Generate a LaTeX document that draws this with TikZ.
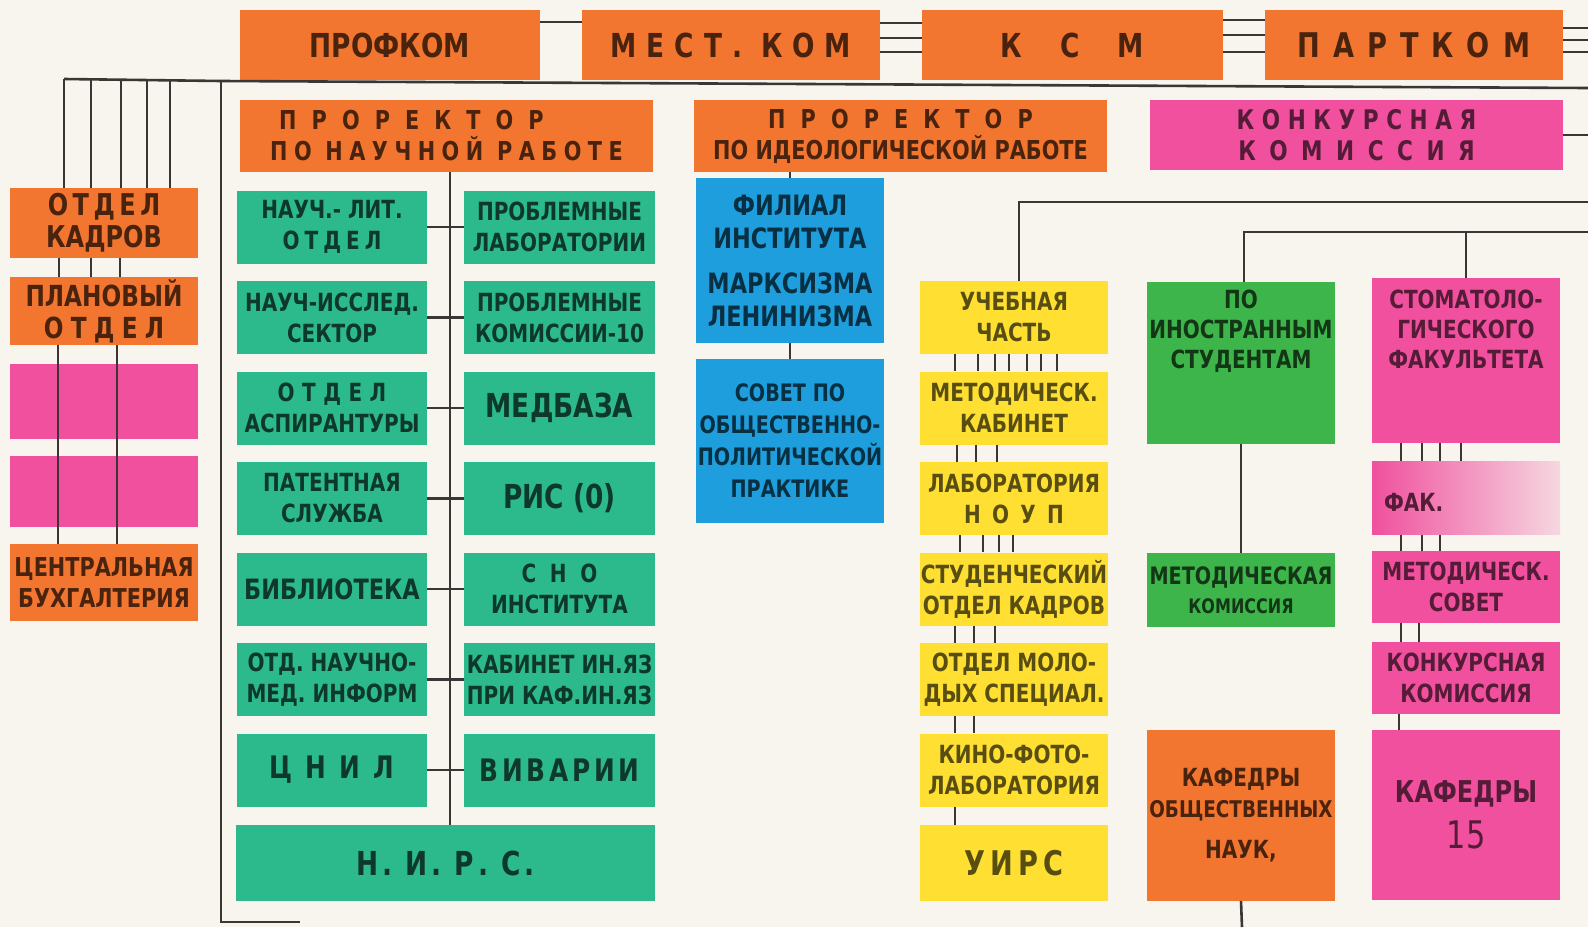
\documentclass[tikz,border=0pt]{standalone}
\usepackage{fontspec}
\newfontfamily\boxfont{DejaVu Sans}[FakeStretch=0.8]
\newcommand\fsz[2]{\fontsize{#1}{#2}\selectfont}
\newcommand\tracked[2]{{\addfontfeature{LetterSpace=#1}#2}}
\definecolor{paper}{HTML}{F7F5EE}
\definecolor{wireC}{HTML}{3B3535}
\definecolor{orgF}{HTML}{F2762F}
\definecolor{tealF}{HTML}{2CB98C}
\definecolor{bluF}{HTML}{1E9EDC}
\definecolor{yelF}{HTML}{FFE032}
\definecolor{grnF}{HTML}{3DB54A}
\definecolor{pnkF}{HTML}{F0509E}

\begin{document}
\begin{tikzpicture}[x=1pt, y=-1pt,
    fs/.style 2 args={font=\boxfont\bfseries\fsz{#1}{#2}},
    box/.style={inner sep=0pt, align=center, fs={25}{31}},
    orgbox/.style={box, fill=orgF, text=orgF!30!black},
    tealbox/.style={box, fill=tealF, text=tealF!30!black},
    bluebox/.style={box, fill=bluF, text=bluF!30!black},
    yelbox/.style={box, fill=yelF, text=yelF!35!black},
    grnbox/.style={box, fill=grnF, text=grnF!30!black},
    pnkbox/.style={box, fill=pnkF, text=pnkF!35!black},
    colw/.style={minimum width=188pt},
    rowh/.style={minimum height=73pt},
    wire/.style={draw=wireC, line width=2.6pt},
    tick/.style={draw=wireC, line width=2pt}]

  \useasboundingbox (0,0) rectangle (1588,927);
  \fill[paper] (0,0) rectangle (1588,927);

  % free ends at the edges
  \coordinate (edgeR) at (1588,0);
  \coordinate (busW) at (64,79);
  \coordinate (busM) at (221,81);
  \coordinate (busE) at (1588,88);
  \coordinate (spineB) at (221,922);
  \coordinate (spineT) at (300,922);
  \coordinate (eR1) at (1588,202);
  \coordinate (eR2) at (1588,232);
  \coordinate (eB) at (1242,927);

  % top row
  \node[orgbox, fs={33}{36}, minimum width=300pt, minimum height=70pt] (profkom) at (390,45) {ПРОФКОМ};
  \node[orgbox, fs={33}{36}, minimum width=298pt, minimum height=70pt] (mestkom) at (731,45) {\tracked{30}{МЕСТ. КОМ}};
  \node[orgbox, fs={33}{36}, minimum width=301pt, minimum height=70pt] (ksm) at (1072.5,45) {\tracked{115}{КСМ}};
  \node[orgbox, fs={34}{36}, minimum width=298pt, minimum height=70pt] (partkom) at (1414,45) {\tracked{38}{ПАРТКОМ}};

  % prorectors
  \node[orgbox, fs={26}{31}, minimum width=413pt, minimum height=72pt] (pronauch) at (446.5,136)
    {\tracked{58}{ПРОРЕКТОР}\hspace*{70pt}\\\tracked{25}{ПО НАУЧНОЙ РАБОТЕ}};
  \node[orgbox, fs={26}{31}, minimum width=413pt, minimum height=72pt] (proideo) at (900.5,136)
    {\tracked{58}{ПРОРЕКТОР}\\ПО ИДЕОЛОГИЧЕСКОЙ РАБОТЕ};
  \node[pnkbox, fs={27}{31}, minimum width=413pt, minimum height=70pt] (konkurs) at (1356.5,135)
    {\tracked{28}{КОНКУРСНАЯ}\\\tracked{50}{КОМИССИЯ}};

  % left column
  \node[orgbox, colw, fs={30}{32}, minimum height=70pt] (kadry) at (104,223) {\tracked{15}{ОТДЕЛ}\\КАДРОВ};
  \node[orgbox, colw, fs={29}{32}, minimum height=68pt] (plan) at (104,311) {ПЛАНОВЫЙ\\\tracked{25}{ОТДЕЛ}};
  \node[pnkbox, colw, minimum height=75pt] (pinkA) at (104,401.5) {};
  \node[pnkbox, colw, minimum height=71pt] (pinkB) at (104,491.5) {};
  \node[orgbox, colw, fs={26}{31}, minimum height=77pt] (buhg) at (104,582.5) {ЦЕНТРАЛЬНАЯ\\БУХГАЛТЕРИЯ};

  % scientific work
  \foreach \k/\ltxt/\rtxt in {
      0/{НАУЧ.- ЛИТ.\\\tracked{20}{ОТДЕЛ}}/{ПРОБЛЕМНЫЕ\\ЛАБОРАТОРИИ},
      1/{НАУЧ-ИССЛЕД.\\СЕКТОР}/{ПРОБЛЕМНЫЕ\\КОМИССИИ-10},
      2/{\tracked{30}{ОТДЕЛ}\\АСПИРАНТУРЫ}/{\fsz{33}{36}МЕДБАЗА},
      3/{ПАТЕНТНАЯ\\СЛУЖБА}/{\fsz{33}{36}РИС (0)},
      4/{\fsz{28}{32}БИБЛИОТЕКА}/{\tracked{55}{СНО}\\ИНСТИТУТА},
      5/{ОТД. НАУЧНО-\\МЕД. ИНФОРМ}/{КАБИНЕТ ИН.ЯЗ\\ПРИ КАФ.ИН.ЯЗ},
      6/{\fsz{31}{34}\tracked{42}{ЦНИЛ}}/{\fsz{31}{34}\tracked{12}{ВИВАРИИ}}} {
    \node[tealbox, minimum width=190pt, rowh] (lf\k) at (332,227+90.5*\k) {\ltxt};
    \node[tealbox, minimum width=191pt, rowh] (rt\k) at (559.5,227+90.5*\k) {\rtxt};
  }
  \node[tealbox, fs={33}{36}, minimum width=419pt, minimum height=76pt] (nirs) at (445.5,863) {\tracked{12}{Н. И. Р. С.}};

  % ideological work
  \node[bluebox, colw, fs={28}{33}, minimum height=165pt] (filial) at (790,260.5)
    {ФИЛИАЛ\\ИНСТИТУТА\\[12pt]МАРКСИЗМА\\ЛЕНИНИЗМА};
  \node[bluebox, colw, fs={24}{32}, minimum height=164pt] (sovet) at (790,441)
    {СОВЕТ ПО\\ОБЩЕСТВЕННО-\\ПОЛИТИЧЕСКОЙ\\ПРАКТИКЕ};

  % teaching part
  \foreach \k/\ytxt in {1/{УЧЕБНАЯ\\ЧАСТЬ}, 2/{МЕТОДИЧЕСК.\\КАБИНЕТ}, 3/{ЛАБОРАТОРИЯ\\\tracked{45}{НОУП}},
      4/{СТУДЕНЧЕСКИЙ\\ОТДЕЛ КАДРОВ}, 5/{ОТДЕЛ МОЛО-\\ДЫХ СПЕЦИАЛ.}, 6/{КИНО-ФОТО-\\ЛАБОРАТОРИЯ}}
    \node[yelbox, colw, rowh] (yl\k) at (1014,227+90.5*\k) {\ytxt};
  \node[yelbox, colw, fs={34}{36}, minimum height=76pt] (uirs) at (1014,863) {\tracked{15}{УИРС}};

  % foreign students
  \node[grnbox, colw, minimum height=162pt] (ino) at (1241,363) {};
  \node[grnbox, fill=none, fs={25}{30}, anchor=north] (inolbl) at ([yshift=-8pt]ino.north) {ПО\\ИНОСТРАННЫМ\\СТУДЕНТАМ};
  \node[grnbox, colw, fs={24}{29}, minimum height=74pt] (metkom) at (1241,590) {МЕТОДИЧЕСКАЯ\\{\fsz{20}{24}КОМИССИЯ}};
  \node[orgbox, colw, fs={25}{31}, minimum height=171pt] (kafobsh) at (1241,815.5) {КАФЕДРЫ\\{\fsz{23}{31}ОБЩЕСТВЕННЫХ}\\[10pt]НАУК,};

  % stomatology
  \node[pnkbox, colw, minimum height=165pt] (stom) at (1466,360.5) {};
  \node[pnkbox, fill=none, fs={25}{30}, anchor=north] (stomlbl) at ([yshift=-12pt]stom.north) {СТОМАТОЛО-\\ГИЧЕСКОГО\\ФАКУЛЬТЕТА};
  \node[pnkbox, colw, rowh, left color=pnkF, right color=pnkF!18!paper, text width=164pt, align=left] (fak) at (1466,498) {\\[-4pt]ФАК.};
  \node[pnkbox, colw, minimum height=72pt] (metsov) at (1466,587) {МЕТОДИЧЕСК.\\СОВЕТ};
  \node[pnkbox, colw, minimum height=72pt] (konk2) at (1466,678) {КОНКУРСНАЯ\\КОМИССИЯ};
  \node[pnkbox, colw, fs={30}{46}, minimum height=170pt] (kaf15) at (1466,815) {КАФЕДРЫ\\{\mdseries\fsz{38}{46}15}};

  % connectors of the top row
  \draw[wire] (profkom.east |- 0,22) -- (mestkom.west |- 0,22);
  \foreach \y in {23,38,52} \draw[wire] (mestkom.east |- 0,\y) -- (ksm.west |- 0,\y);
  \foreach \y in {20,35,52} \draw[wire] (ksm.east |- 0,\y) -- (partkom.west |- 0,\y);
  \foreach \y in {28,40,52} \draw[wire] (partkom.east |- 0,\y) -- (edgeR |- 0,\y);
  \draw[wire] (konkurs.east) -- (konkurs.east -| edgeR);

  % main bus and spine
  \draw[wire] (busW) -- (busM) -- (busE);
  \draw[wire] (busM) -- (spineB) -- (spineT);
  \foreach \x in {64,91,121,147,170} \draw[wire] (\x,0 |- busW) -- (kadry.north -| \x,0);
  \foreach \x in {59,91,120} \draw[wire] (kadry.south -| \x,0) -- (plan.north -| \x,0);
  \foreach \x in {58,117} \draw[wire] (plan.south -| \x,0) -- (buhg.north -| \x,0);

  % scientific work links
  \draw[wire] (pronauch.south -| 450,0) -- (nirs.north -| 450,0);
  \foreach \k in {0,...,6} \draw[wire] (lf\k.east) -- (rt\k.west);

  % ideological work links
  \draw[wire] (filial.north) -- (filial.north |- proideo.south);
  \draw[wire] (filial.south) -- (sovet.north);

  % right-hand buses
  \draw[wire] (eR1) -| ([xshift=5pt]yl1.north);
  \draw[wire] (eR2) -| ([xshift=3pt]ino.north);
  \draw[wire] (stom.north) -- (stom.north |- eR2);
  \draw[wire] (ino.south) -- (metkom.north);
  \draw[wire] (kafobsh.south) -- (eB);

  % ticks between stacked boxes
  \foreach \a/\b/\xs in {yl1/yl2/{955,978,995,1009,1027,1041,1057}, yl2/yl3/{957,976,997},
      yl3/yl4/{960,983,999,1013}, yl4/yl5/{955,974,995}, yl5/yl6/{955,974}, yl6/uirs/{955},
      stom/fak/{1401,1422,1440,1461}, fak/metsov/{1401,1422,1440}, metsov/konk2/{1401,1419}, konk2/kaf15/{1399}}
    \foreach \x in \xs \draw[tick] (\a.south -| \x,0) -- (\b.north -| \x,0);
\end{tikzpicture}
\end{document}
